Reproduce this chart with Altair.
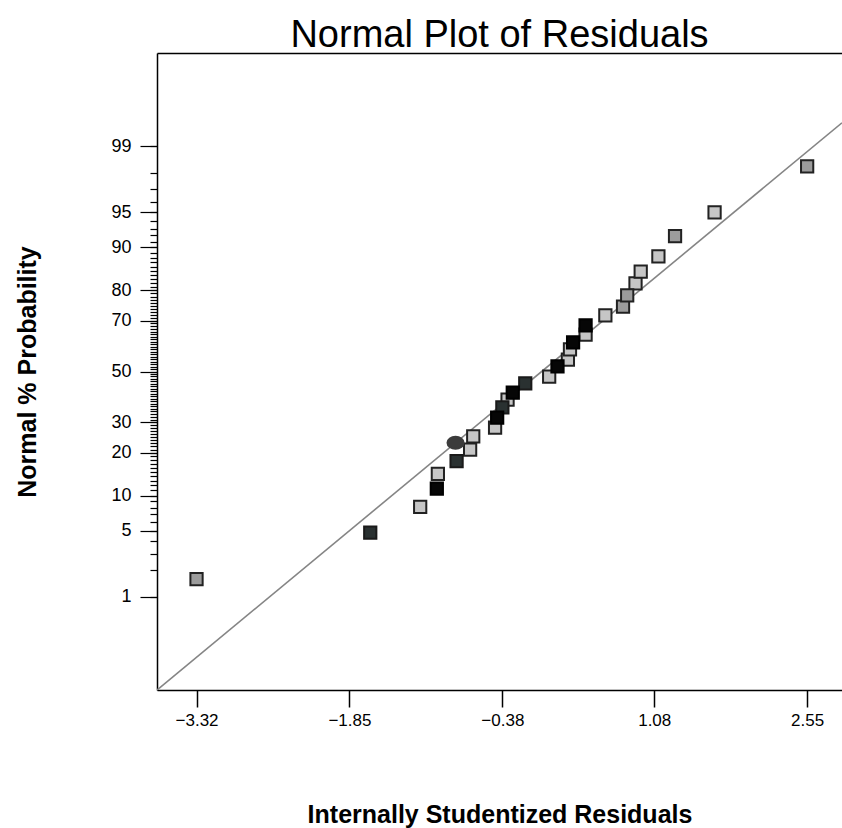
import altair as alt
import pandas as pd
from statistics import NormalDist

# ---- data ----
resid = [-3.32, -1.65, -1.17, -1.01, -1.00, -0.82, -0.69, -0.83, -0.66, -0.45,
         -0.43, -0.38, -0.33, -0.28, -0.16, 0.07, 0.15, 0.25, 0.27, 0.30,
         0.42, 0.42, 0.61, 0.78, 0.82, 0.90, 0.95, 1.12, 1.28, 1.66, 2.55]
prob = [1.6, 4.8, 8.1, 11.3, 14.5, 17.7, 21.0, 23.1, 25.1, 28.1,
        31.7, 35.5, 38.6, 41.4, 45.1, 47.9, 52.1, 54.9, 59.0, 61.8,
        64.8, 68.3, 71.9, 74.9, 78.4, 81.9, 84.9, 88.3, 91.9, 95.0, 98.3]
shade = ["mid", "dark", "light", "black", "light", "dark", "light", "blob", "light", "light",
         "black", "dark", "light", "black", "dark", "light", "black", "light", "light", "black",
         "light", "black", "light", "mid", "mid", "light", "light", "light", "mid", "light", "mid"]
order = {"light": 0, "mid": 1, "blob": 2, "dark": 3, "black": 4}

line_x = [-3.70, 2.885]
line_pct = [0.05, 99.49]

x_ticks = [-3.32, -1.85, -0.38, 1.08, 2.55]
major_pct = [1, 5, 10, 20, 30, 50, 70, 80, 90, 95, 99]
minor_pct = list(range(1, 100))

FONT = "Liberation Sans"

df = pd.DataFrame({"resid": resid, "prob": prob, "shade": shade})
df["marker"] = ["blob" if s == "blob" else "sq" for s in shade]
df["ord"] = [order[s] for s in shade]
df = df.sort_values("ord", kind="stable")

line_df = pd.DataFrame({"x": line_x, "p": line_pct})

nd = NormalDist()
major_z = [nd.inv_cdf(p / 100.0) for p in major_pct]
minor_z = [nd.inv_cdf(p / 100.0) for p in minor_pct]
pct_expr = "round(cumulativeNormal(datum.value)*100)"

x_scale = alt.Scale(domain=[-3.70, 2.885], nice=False, zero=False)
y_scale = alt.Scale(domain=[-3.29, 3.29], nice=False, zero=False)

W, H = 685, 637

# line layer: carries the top frame line and the minor y ticks
line = alt.Chart(line_df).transform_calculate(
    z="quantileNormal(datum.p/100)"
).mark_line(color="#858585", strokeWidth=1.6, clip=True).encode(
    x=alt.X("x:Q", scale=x_scale,
            axis=alt.Axis(orient="top", labels=False, ticks=False, title=None,
                          domain=True, domainColor="#000000", domainWidth=1.5, grid=False,
                          minExtent=0, maxExtent=0)),
    y=alt.Y("z:Q", scale=y_scale,
            axis=alt.Axis(orient="left", values=minor_z, labels=False, title=None, grid=False,
                          domain=False, tickColor="#000000", tickWidth=1.2, tickSize=7,
                          minExtent=0, maxExtent=0)),
)

ellipse_path = "M -1 0 A 1 0.75 0 1 0 1 0 A 1 0.75 0 1 0 -1 0 Z"

points = alt.Chart(df).transform_calculate(
    z="quantileNormal(datum.prob/100)"
).mark_point(filled=True, strokeWidth=2, opacity=1, strokeOpacity=1,
             fillOpacity=1).encode(
    x=alt.X("resid:Q", scale=x_scale,
            axis=alt.Axis(orient="bottom", values=x_ticks, format=".2f", grid=False,
                          domainColor="#000000", domainWidth=1.5,
                          tickColor="#000000", tickWidth=1.5, tickSize=17,
                          labelFont=FONT, labelFontSize=17, labelColor="#000000",
                          labelPadding=5, labelFlush=False, labelOverlap=False,
                          title="Internally Studentized Residuals",
                          titleFont=FONT, titleFontSize=25, titleFontWeight="bold",
                          titleColor="#000000", titleX=W / 2, titleY=132,
                          titleAlign="center", titleBaseline="alphabetic")),
    y=alt.Y("z:Q", scale=y_scale,
            axis=alt.Axis(orient="left", values=major_z, grid=False,
                          labelExpr=f"'' + {pct_expr}",
                          domainColor="#000000", domainWidth=1.5,
                          tickColor="#000000", tickWidth=1.2, tickSize=17,
                          labelFont=FONT, labelFontSize=18, labelColor="#000000",
                          labelPadding=9, labelFlush=False, labelOverlap=False, labelBound=False,
                          title="Normal % Probability",
                          titleFont=FONT, titleFontSize=25, titleFontWeight="bold",
                          titleColor="#000000", titleX=-122, titleY=H / 2,
                          titleAngle=270, titleAlign="center", titleBaseline="alphabetic")),
    fill=alt.Fill("shade:N", legend=None,
                  scale=alt.Scale(domain=["light", "mid", "dark", "black", "blob"],
                                  range=["#c6c6c6", "#9c9c9c", "#2a3131", "#060606", "#3c3c3c"])),
    stroke=alt.Stroke("shade:N", legend=None,
                      scale=alt.Scale(domain=["light", "mid", "dark", "black", "blob"],
                                      range=["#222222", "#222222", "#1a1a1a", "#000000", "#3c3c3c"])),
    shape=alt.Shape("marker:N", legend=None,
                    scale=alt.Scale(domain=["sq", "blob"], range=["square", ellipse_path])),
    size=alt.Size("marker:N", legend=None,
                  scale=alt.Scale(domain=["sq", "blob"], range=[150, 260])),
    order=alt.Order("ord:Q"),
)

chart = alt.layer(line, points).resolve_axis(x="independent", y="independent").properties(
    width=W,
    height=H,
    autosize=alt.AutoSizeParams(type="none"),
    padding={"left": 157, "top": 53, "right": 0, "bottom": 138},
    background="#ffffff",
    title=alt.Title("Normal Plot of Residuals", font=FONT, fontSize=38,
                    fontWeight="normal", color="#000000", anchor="middle",
                    baseline="alphabetic", offset=-32),
).configure_view(stroke=None)

chart.save("out.html", embed_options={"renderer": "svg", "actions": False})
